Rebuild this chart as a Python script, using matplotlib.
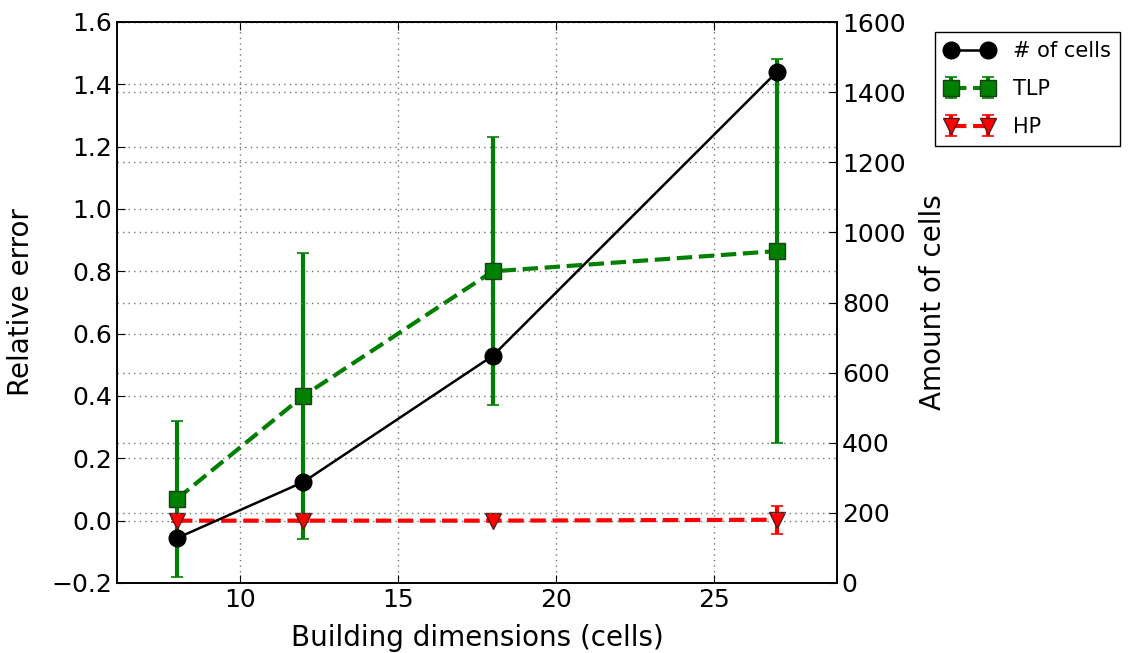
import matplotlib.pyplot as plt
import numpy as np

# building sizes (cells per side)
dims = [8, 12, 18, 27]

# relative error of the two predictors
tlp_mean = [0.07, 0.40, 0.80, 0.865]
tlp_err = [0.25, 0.46, 0.43, 0.615]
hp_mean = [0.0, 0.0, 0.0, 0.003]
hp_err = [0.004, 0.004, 0.004, 0.045]

# total amount of cells per building
n_cells = [128, 288, 648, 1458]

plt.rcParams['font.family'] = 'DejaVu Sans'
plt.rcParams['xtick.direction'] = 'in'
plt.rcParams['ytick.direction'] = 'in'

fig = plt.figure(figsize=(11.28, 6.53), dpi=100)
ax = fig.add_axes([117 / 1128, 70 / 653, 720 / 1128, 561 / 653])
ax2 = ax.twinx()

grid_kw = dict(color='0.45', linestyle=(0, (1, 3)), linewidth=1.0)

h_tlp = ax.errorbar(dims, tlp_mean, yerr=tlp_err, color='green', linestyle='--',
                    linewidth=3, marker='s', markersize=12, markeredgecolor='#1a3d1a',
                    elinewidth=3, capsize=4, capthick=1.2, label='TLP')
h_hp = ax.errorbar(dims, hp_mean, yerr=hp_err, color='red', linestyle='--',
                   linewidth=3, marker='v', markersize=12, markeredgecolor='#5a1a1a',
                   elinewidth=3, capsize=4, capthick=1.2, label='HP')
h_cells, = ax2.plot(dims, n_cells, color='k', linewidth=1.8, marker='o',
                    markersize=12, label='# of cells')

ax.set_xlim(6.1, 28.9)
ax.set_ylim(-0.2, 1.6)
ax.set_yticks(np.arange(-0.2, 1.61, 0.2))
ax2.set_ylim(0, 1600)
ax2.set_yticks(np.arange(0, 1601, 200))
ax.set_xticks([10, 15, 20, 25])

ax.grid(True, **grid_kw)
ax2.grid(True, axis='y', **grid_kw)

ax.tick_params(labelsize=18, top=True, length=6)
ax2.tick_params(labelsize=18, length=6)
ax.set_xlabel('Building dimensions (cells)', fontsize=20, labelpad=9)
ax.set_ylabel('Relative error', fontsize=20, labelpad=12)
ax2.set_ylabel('Amount of cells', fontsize=20, labelpad=10)

for a in (ax, ax2):
    for s in a.spines.values():
        s.set_linewidth(1.2)

ax.legend([h_cells, h_tlp, h_hp], ['# of cells', 'TLP', 'HP'], numpoints=2,
          loc='upper left', bbox_to_anchor=(1.136, 0.982), borderaxespad=0,
          fontsize=15, fancybox=False, edgecolor='k', framealpha=1,
          handlelength=2.4, handletextpad=0.9, labelspacing=0.85,
          borderpad=0.45)

fig.savefig('out.png', dpi=100, facecolor='white')
